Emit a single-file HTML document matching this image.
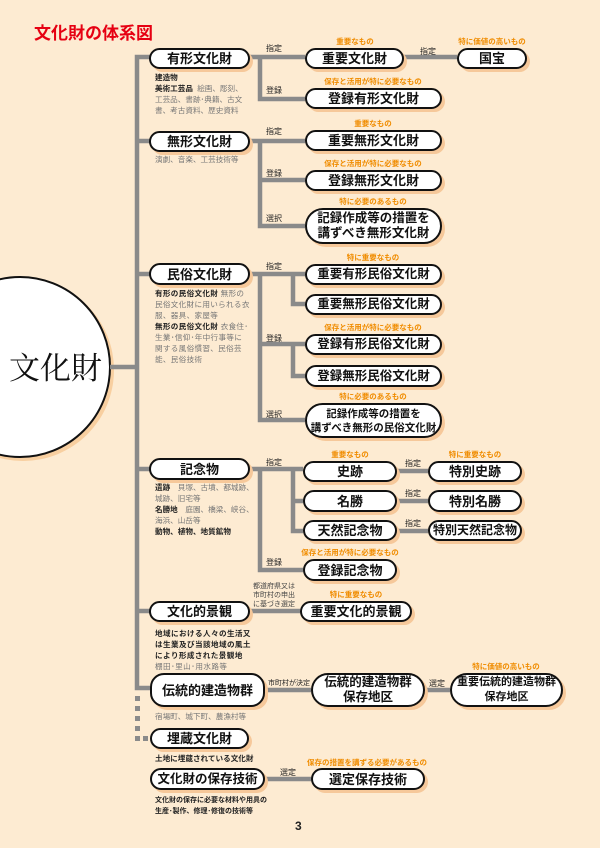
<!DOCTYPE html>
<html><head><meta charset="utf-8"><style>
body{margin:0;background:#fdebd2;}
#c{position:relative;width:600px;height:848px;overflow:hidden;background:#fdebd2;font-family:"Liberation Sans","Noto Sans CJK JP",sans-serif;}
.p{position:absolute;box-sizing:border-box;background:#fff;border:2px solid #111;border-radius:14px;display:flex;align-items:center;justify-content:center;text-align:center;font-weight:700;color:#111;font-size:13px;line-height:15px;box-shadow:3px 3px 0 #f6c89a;white-space:nowrap;}
.p.t{border-radius:18px;font-size:12.5px;}
.o{position:absolute;color:#f08c00;font-size:7.5px;line-height:8px;font-weight:700;white-space:nowrap;transform:translateX(-50%);}
.l{position:absolute;font-size:8px;line-height:9px;color:#222;white-space:nowrap;}
.d{position:absolute;font-size:7.6px;line-height:11px;color:#777;}
.d b{color:#222;}
.db{position:absolute;font-size:7.6px;line-height:11px;color:#222;font-weight:700;}
</style></head><body><div id="c">
<svg width="600" height="848" style="position:absolute;left:0;top:0">
<circle cx="23" cy="370" r="91" fill="#f8cfa0"/>
<circle cx="20" cy="367" r="90" fill="#fff" stroke="#111" stroke-width="2"/>
<g stroke="#8a8a8a" stroke-width="4.5" fill="none">
<path d="M110 367H137M150 57H137V688H150"/>
<path d="M137 141H150M137 274H150M137 469H150M137 611H150"/>
<path d="M250 57H305M260 57V99H305M404 57H457"/>
<path d="M250 141H305M260 141V226H305M260 180H305"/>
<path d="M250 274H305M260 274V420H305M293 274V304H305M260 344H305M293 344V376H305"/>
<path d="M250 469H303M260 469V570H303M293 469V531H303M293 501H303M397 471H428M397 501H428M397 531H428"/>
<path d="M250 611H300M265 690H311M425 690H450M265 779H311"/>
</g>
<g fill="#8a8a8a"><rect x="135" y="696" width="5" height="5"/><rect x="135" y="706" width="5" height="5"/><rect x="135" y="716" width="5" height="5"/><rect x="135" y="726" width="5" height="5"/><rect x="135" y="736" width="5" height="5"/><rect x="143" y="736" width="5" height="5"/></g>
</svg>
<div style="position:absolute;left:34px;top:24px;color:#e60012;font-size:17px;line-height:20px;font-weight:700">文化財の体系図</div>
<div style="position:absolute;left:9px;top:346px;font-family:'Noto Serif CJK SC',serif;font-size:31px;line-height:40px;color:#111">文化財</div>

<div class="p" style="left:149px;top:48px;width:101px;height:21px">有形文化財</div>
<div class="db" style="left:155px;top:72px">建造物<br>美術工芸品 <span style="font-weight:400;color:#777">&nbsp;絵画、彫刻、</span></div>
<div class="d" style="left:155px;top:94px">工芸品、書跡･典籍、古文<br>書、考古資料、歴史資料</div>
<div class="l" style="left:266px;top:44px">指定</div><div class="l" style="left:266px;top:86px">登録</div>
<div class="o" style="left:355px;top:38px">重要なもの</div>
<div class="p" style="left:305px;top:48px;width:99px;height:21px">重要文化財</div>
<div class="l" style="left:420px;top:47px">指定</div>
<div class="o" style="left:492px;top:38px">特に価値の高いもの</div>
<div class="p" style="left:457px;top:48px;width:70px;height:21px">国宝</div>
<div class="o" style="left:373px;top:78px">保存と活用が特に必要なもの</div>
<div class="p" style="left:305px;top:88px;width:137px;height:21px">登録有形文化財</div>

<div class="p" style="left:149px;top:131px;width:101px;height:21px">無形文化財</div>
<div class="d" style="left:155px;top:154px">演劇、音楽、工芸技術等</div>
<div class="l" style="left:266px;top:127px">指定</div><div class="l" style="left:266px;top:169px">登録</div><div class="l" style="left:266px;top:214px">選択</div>
<div class="o" style="left:373px;top:120px">重要なもの</div>
<div class="p" style="left:305px;top:130px;width:137px;height:21px">重要無形文化財</div>
<div class="o" style="left:373px;top:160px">保存と活用が特に必要なもの</div>
<div class="p" style="left:305px;top:170px;width:137px;height:21px">登録無形文化財</div>
<div class="o" style="left:373px;top:198px">特に必要のあるもの</div>
<div class="p t" style="left:305px;top:208px;width:137px;height:36px">記録作成等の措置を<br>講ずべき無形文化財</div>

<div class="p" style="left:149px;top:263px;width:101px;height:22px">民俗文化財</div>
<div class="d" style="left:155px;top:288px;width:95px;letter-spacing:0.3px"><b>有形の民俗文化財</b> 無形の民俗文化財に用いられる衣服、器具、家屋等<br><b>無形の民俗文化財</b> 衣食住･生業･信仰･年中行事等に関する風俗慣習、民俗芸能、民俗技術</div>
<div class="l" style="left:266px;top:262px">指定</div><div class="l" style="left:266px;top:334px">登録</div><div class="l" style="left:266px;top:410px">選択</div>
<div class="o" style="left:373px;top:254px">特に重要なもの</div>
<div class="p" style="left:305px;top:264px;width:137px;height:21px;font-size:12.5px">重要有形民俗文化財</div>
<div class="p" style="left:305px;top:294px;width:137px;height:21px;font-size:12.5px">重要無形民俗文化財</div>
<div class="o" style="left:373px;top:324px">保存と活用が特に必要なもの</div>
<div class="p" style="left:305px;top:334px;width:137px;height:21px;font-size:12.5px">登録有形民俗文化財</div>
<div class="p" style="left:305px;top:365px;width:137px;height:22px;font-size:12.5px">登録無形民俗文化財</div>
<div class="o" style="left:373px;top:393px">特に必要のあるもの</div>
<div class="p t" style="left:305px;top:403px;width:137px;height:35px;font-size:10.5px;line-height:14px">記録作成等の措置を<br>講ずべき無形の民俗文化財</div>

<div class="p" style="left:149px;top:458px;width:101px;height:22px">記念物</div>
<div class="d" style="left:155px;top:482px;width:100px"><b>遺跡</b>　貝塚、古墳、都城跡、城跡、旧宅等<br><b>名勝地</b>　庭園、橋梁、峡谷、海浜、山岳等<br><b>動物、植物、地質鉱物</b></div>
<div class="l" style="left:266px;top:458px">指定</div><div class="l" style="left:266px;top:558px">登録</div>
<div class="o" style="left:350px;top:451px">重要なもの</div>
<div class="p" style="left:303px;top:461px;width:94px;height:21px">史跡</div>
<div class="o" style="left:475px;top:451px">特に重要なもの</div>
<div class="p" style="left:428px;top:461px;width:94px;height:21px">特別史跡</div>
<div class="p" style="left:303px;top:490px;width:94px;height:22px">名勝</div>
<div class="p" style="left:428px;top:490px;width:94px;height:22px">特別名勝</div>
<div class="p" style="left:303px;top:520px;width:94px;height:21px">天然記念物</div>
<div class="p" style="left:428px;top:520px;width:94px;height:21px;font-size:12px">特別天然記念物</div>
<div class="l" style="left:405px;top:459px">指定</div><div class="l" style="left:405px;top:489px">指定</div><div class="l" style="left:405px;top:519px">指定</div>
<div class="o" style="left:350px;top:549px">保存と活用が特に必要なもの</div>
<div class="p" style="left:303px;top:559px;width:94px;height:22px">登録記念物</div>

<div class="p" style="left:149px;top:601px;width:101px;height:21px">文化的景観</div>
<div class="l" style="left:253px;top:582px;font-size:7px;line-height:9px;color:#444">都道府県又は<br>市町村の申出<br>に基づき選定</div>
<div class="o" style="left:356px;top:591px">特に重要なもの</div>
<div class="p" style="left:300px;top:601px;width:112px;height:21px">重要文化的景観</div>
<div class="db" style="left:155px;top:628px;letter-spacing:0.4px">地域における人々の生活又<br>は生業及び当該地域の風土<br>により形成された景観地<br><span style="font-weight:400;color:#777">棚田･里山･用水路等</span></div>

<div class="p" style="left:150px;top:673px;width:115px;height:34px">伝統的建造物群</div>
<div class="l" style="left:268px;top:679px;font-size:7px">市町村が決定</div>
<div class="p t" style="left:311px;top:673px;width:114px;height:34px">伝統的建造物群<br>保存地区</div>
<div class="l" style="left:429px;top:679px">選定</div>
<div class="o" style="left:506px;top:663px">特に価値の高いもの</div>
<div class="p t" style="left:450px;top:673px;width:113px;height:34px;font-size:11px">重要伝統的建造物群<br>保存地区</div>
<div class="d" style="left:155px;top:711px">宿場町、城下町、農漁村等</div>

<div class="p" style="left:150px;top:728px;width:99px;height:21px">埋蔵文化財</div>
<div class="db" style="left:155px;top:753px">土地に埋蔵されている文化財</div>
<div class="p" style="left:150px;top:768px;width:115px;height:22px;font-size:12.5px">文化財の保存技術</div>
<div class="l" style="left:280px;top:768px">選定</div>
<div class="o" style="left:367px;top:759px">保存の措置を講ずる必要があるもの</div>
<div class="p" style="left:311px;top:768px;width:114px;height:22px">選定保存技術</div>
<div class="db" style="left:155px;top:795px;font-size:7px;line-height:11px">文化財の保存に必要な材料や用具の<br>生産･製作、修理･修復の技術等</div>
<div style="position:absolute;left:295px;top:819px;font-size:12px;font-weight:700;color:#222">3</div>
</div></body></html>
